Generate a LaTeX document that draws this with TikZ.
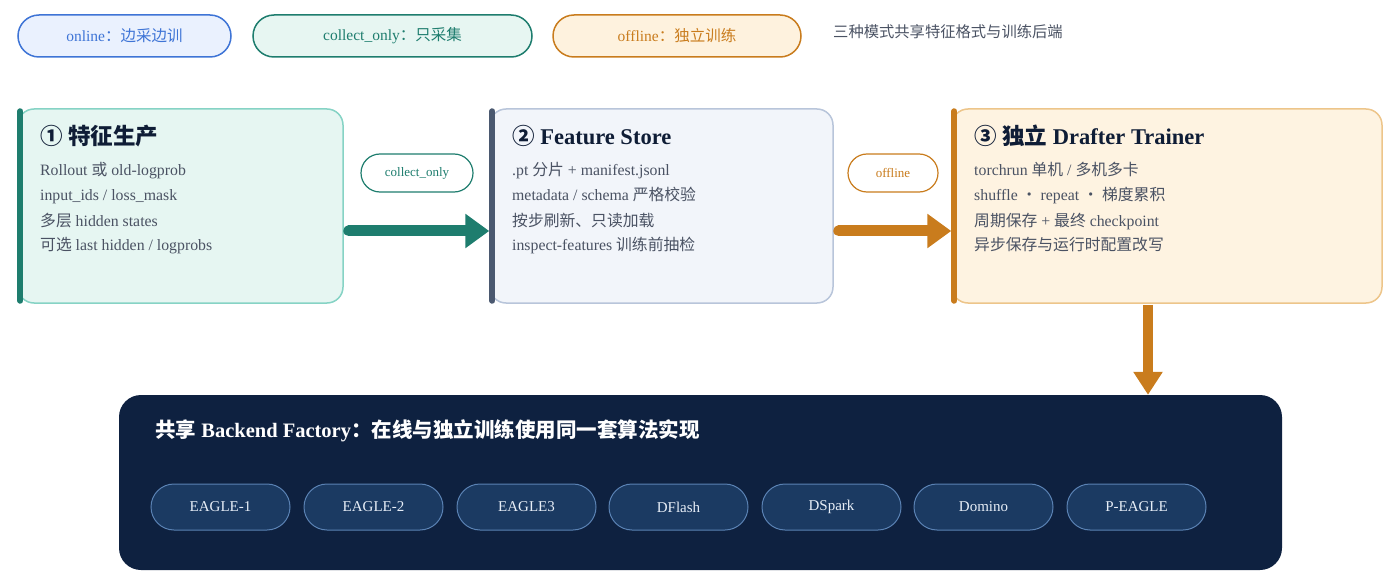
\documentclass[tikz,border=0pt]{standalone}
\usepackage{fontspec}
\setmainfont{Liberation Serif}
\newfontfamily\cjk{Noto Sans CJK SC}
\usepackage{xcolor}
\usetikzlibrary{arrows.meta,calc}

\newcommand{\zh}[1]{{\cjk #1}}

\definecolor{onfill}{HTML}{EAF1FE}
\definecolor{online}{HTML}{3E74D6}
\definecolor{colfill}{HTML}{E7F6F2}
\definecolor{coline}{HTML}{1E7D6E}
\definecolor{offfill}{HTML}{FEF2DE}
\definecolor{offline}{HTML}{C97C1D}
\definecolor{prodfill}{HTML}{E6F6F2}
\definecolor{prodline}{HTML}{86D3C5}
\definecolor{storefill}{HTML}{F2F5FA}
\definecolor{storeline}{HTML}{B8C5DA}
\definecolor{storebar}{HTML}{4B5970}
\definecolor{trainfill}{HTML}{FEF3E1}
\definecolor{trainline}{HTML}{EDC58A}
\definecolor{ink}{HTML}{0F1D36}
\definecolor{slate}{HTML}{4A5263}
\definecolor{navy}{HTML}{0E2140}
\definecolor{algofill}{HTML}{1B3A62}
\definecolor{algoline}{HTML}{5A82B4}
\definecolor{algotext}{HTML}{E7EEF7}

\begin{document}
\begin{tikzpicture}[x=1pt,y=1pt,yscale=-1,
  legend/.style={draw, line width=1.5, rounded corners=21, minimum height=42, inner sep=0, font=\fontsize{15.5}{18}\selectfont},
  card/.style={draw, line width=1.5, rounded corners=16, minimum height=194, inner sep=0},
  bar/.style={line width=6, line cap=round},
  ttl/.style={anchor=base west, inner sep=0, text=ink, font=\fontsize{22.5}{26}\selectfont\bfseries},
  body/.style={anchor=base west, inner sep=0, text=slate, font=\fontsize{15.8}{18}\selectfont},
  tag/.style={draw, fill=white, line width=1.2, rounded corners=19, minimum height=38, inner sep=0, font=\fontsize{13}{15}\selectfont},
  fat/.style={line width=11, line cap=round, -{Triangle[length=24pt, width=33pt]}},
  algo/.style={draw=algoline, fill=algofill, line width=1, rounded corners=23, minimum width=139, minimum height=46, inner sep=0, text=algotext, font=\fontsize{15}{18}\selectfont}]
%set diagram to the size of the reference
\useasboundingbox (0,0) rectangle (1400,588);

% Legend
\node [legend, draw=online, fill=onfill, text=online, minimum width=213] (lgon) at (124.5,36) {online\zh{：边采边训}};
\node [legend, draw=coline, fill=colfill, text=coline, minimum width=279] (lgcol) at (392.5,36) {collect\_only\zh{：只采集}};
\node [legend, draw=offline, fill=offfill, text=offline, minimum width=248] (lgoff) at (677,36) {offline\zh{：独立训练}};
% Text Node
\node [body, font=\fontsize{15.3}{18}\selectfont] (note) at (833,38) {\zh{三种模式共享特征格式与训练后端}};

%Shape: card 1
\node [card, draw=prodline, fill=prodfill, minimum width=325] (prod) at (180.5,206) {};
\draw [bar, coline] ($(prod.north west)+(3,3)$) -- ($(prod.south west)+(3,-3)$);
\node [ttl] (prodttl) at (40,145) {\zh{①} \zh{特征生产}};
\node [body] (prod1) at (40,176) {Rollout \zh{或} old-logprob};
\node [body] (prod2) at (40,201) {input\_ids / loss\_mask};
\node [body] (prod3) at (40,226) {\zh{多层} hidden states};
\node [body] (prod4) at (40,251) {\zh{可选} last hidden / logprobs};

%Shape: card 2
\node [card, draw=storeline, fill=storefill, minimum width=343] (store) at (661.5,206) {};
\draw [bar, storebar] ($(store.north west)+(3,3)$) -- ($(store.south west)+(3,-3)$);
\node [ttl] (storettl) at (512,145) {\zh{②} Feature Store};
\node [body] (store1) at (512,176) {.pt \zh{分片} + manifest.jsonl};
\node [body] (store2) at (512,201) {metadata / schema \zh{严格校验}};
\node [body] (store3) at (512,226) {\zh{按步刷新、只读加载}};
\node [body] (store4) at (512,251) {inspect-features \zh{训练前抽检}};

%Shape: card 3
\node [card, draw=trainline, fill=trainfill, minimum width=430] (train) at (1167,206) {};
\draw [bar, offline] ($(train.north west)+(3,3)$) -- ($(train.south west)+(3,-3)$);
\node [ttl] (trainttl) at (974,145) {\zh{③} \zh{独立} Drafter Trainer};
\node [body] (train1) at (974,176) {torchrun \zh{单机} / \zh{多机多卡}};
\node [body] (train2) at (974,201) {shuffle\zh{ ・ }repeat\zh{ ・ 梯度累积}};
\node [body] (train3) at (974,226) {\zh{周期保存} + \zh{最终} checkpoint};
\node [body] (train4) at (974,251) {\zh{异步保存与运行时配置改写}};

% Arrows between cards
\draw [fat, color=coline] ($(prod.east)+(5,25)$) -- ($(store.west)+(0,25)$);
\node [tag, draw=coline, text=coline, minimum width=112] (tagcol) at (417,173) {collect\_only};
\draw [fat, color=offline] ($(store.east)+(5,25)$) -- ($(train.west)+(0,25)$);
\node [tag, draw=offline, text=offline, minimum width=90] (tagoff) at (893,173) {offline};

%Shape: backend panel
\node [fill=navy, rounded corners=22, minimum width=1163, minimum height=175, inner sep=0] (backend) at (700.5,482.5) {};
\node [anchor=west, inner sep=0, text=white, font=\fontsize{20.5}{24}\selectfont\bfseries] (backttl) at (155,431) {\zh{共享} Backend Factory\zh{：在线与独立训练使用同一套算法实现}};
\coordinate (drop) at ($(train.south)+(-19,1)$);
\draw [line width=10, color=offline, -{Triangle[length=23pt, width=28pt]}] (drop) -- (drop |- backend.north);

% Algorithms
\node [algo] (eagle1) at (220.5,507) {EAGLE-1};
\node [algo] (eagle2) at (373.5,507) {EAGLE-2};
\node [algo] (eagle3) at (526.5,507) {EAGLE3};
\node [algo] (dflash) at (678.5,507) {DFlash};
\node [algo] (dspark) at (831.5,507) {DSpark};
\node [algo] (domino) at (983.5,507) {Domino};
\node [algo] (peagle) at (1136.5,507) {P-EAGLE};
\end{tikzpicture}
\end{document}
